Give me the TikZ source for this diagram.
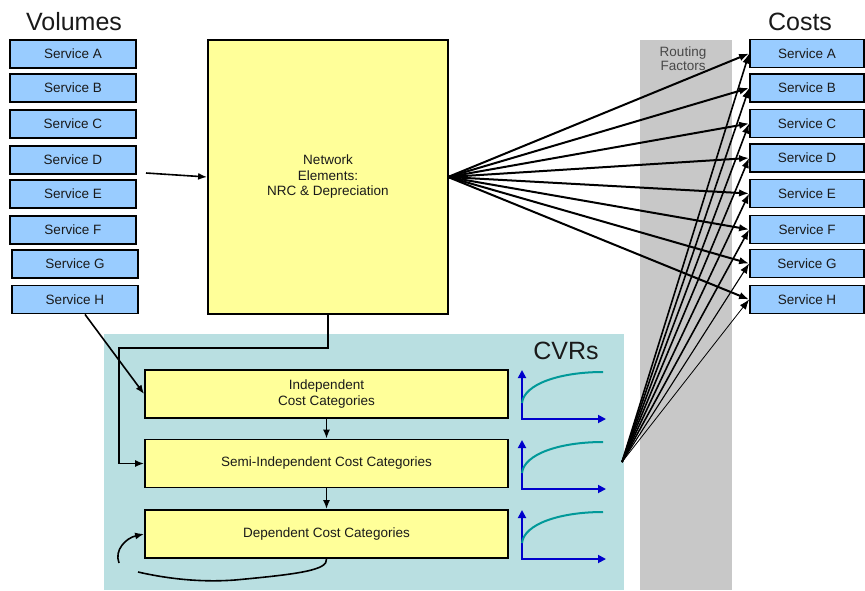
\documentclass[tikz,border=0pt]{standalone}
\usepackage{fontspec}
\setmainfont{Liberation Sans}
\usetikzlibrary{arrows.meta}
\definecolor{svcblue}{HTML}{99CCFF}
\definecolor{boxyellow}{HTML}{FFFF99}
\definecolor{cvrteal}{HTML}{B9DFE1}
\definecolor{routegray}{HTML}{C8C8C8}
\definecolor{axisblue}{HTML}{0000CC}
\definecolor{curveteal}{HTML}{009999}
\definecolor{darktext}{HTML}{1A1A1A}
\begin{document}
\begin{tikzpicture}[x=1pt,y=-1pt,
  svcbox/.style={draw,line width=1.8pt,fill=svcblue,minimum height=28pt,inner sep=0pt,
    font=\fontsize{13.5}{15}\selectfont,text=darktext},
  lsvc/.style={svcbox,minimum width=126pt},
  rsvc/.style={svcbox,minimum width=114pt},
  catbox/.style={draw,line width=1.8pt,fill=boxyellow,minimum width=363pt,minimum height=48pt,
    inner sep=0pt,align=center,font=\fontsize{13.5}{16}\selectfont,text=darktext},
  bigtitle/.style={font=\fontsize{25}{28}\selectfont,text=darktext},
  conn/.style={line width=1.6pt,-{Latex[length=9pt,width=7pt]}},
  fanA/.style={line width=2pt,-{Latex[length=10pt,width=7.5pt]}},
  fanB/.style={line width=1.6pt,-{Latex[length=10pt,width=7.5pt]}},
  axisline/.style={axisblue,line width=1.8pt,{Triangle[length=8pt,width=8pt]}-{Triangle[length=8pt,width=8pt]}},
  cvrcurve/.style={curveteal,line width=2pt}
]
\useasboundingbox (0,0) rectangle (865,590);
% backgrounds
\fill[cvrteal] (104,334) rectangle (624,590);
\fill[routegray] (640,40) rectangle (732,590);
\node[font=\fontsize{13.5}{14}\selectfont,align=center,text=darktext!80] (rf) at (683,59) {Routing\\Factors};

% titles
\node[bigtitle] (vol) at (74,22) {Volumes};
\node[bigtitle] (cost) at (800,22) {Costs};
\node[bigtitle] (cvr) at (566,351) {CVRs};

% left services
\node[lsvc] (lA) at (73,54) {Service A};
\node[lsvc] (lB) at (73,88) {Service B};
\node[lsvc] (lC) at (73,124) {Service C};
\node[lsvc] (lD) at (73,160) {Service D};
\node[lsvc] (lE) at (73,194) {Service E};
\node[lsvc] (lF) at (73,230) {Service F};
\node[lsvc] (lG) at (75,264) {Service G};
\node[lsvc] (lH) at (75,299.5) {Service H};

% right services
\node[rsvc] (rA) at (807,53.5) {Service A};
\node[rsvc] (rB) at (807,88) {Service B};
\node[rsvc] (rC) at (807,123.5) {Service C};
\node[rsvc] (rD) at (807,158) {Service D};
\node[rsvc] (rE) at (807,193.5) {Service E};
\node[rsvc] (rF) at (807,229.5) {Service F};
\node[rsvc] (rG) at (807,263.5) {Service G};
\node[rsvc] (rH) at (807,299.5) {Service H};

% network elements
\node[draw,line width=1.8pt,fill=boxyellow,minimum width=240pt,minimum height=274pt,inner sep=0pt,
  align=center,font=\fontsize{13.5}{15.5}\selectfont,text=darktext] (ne) at (328,177)
  {Network\\Elements:\\NRC \& Depreciation};

% cost categories
\node[catbox] (ind) at (326.5,394) {Independent\\Cost Categories};
\node[catbox] (semi) at (326.5,463.5) {Semi-Independent Cost Categories};
\node[catbox] (dep) at (326.5,534) {Dependent Cost Categories};

% CVR graphs
\foreach \t/\b in {370/419,440/489,510/559}{
  \draw[axisline] (522,\t) -- (522,\b) -- (606,\b);
  \draw[cvrcurve] (522,\b-16) .. controls (524,\t+14) and (560,\t+2) .. (603,\t+2);
}

% connectors
\coordinate (dsrc) at (146,173);
\draw[conn] (dsrc) -- (ne.west);
\draw[conn] ([xshift=10pt]lH.south) -- (ind.west);
\draw[conn] (ne.south) -- (328,348) -- (119,348) |- (semi.west);
\draw[conn] (ind.south) -- (semi.north);
\draw[conn] (semi.south) -- (dep.north);
\draw[line width=1.6pt] (dep.south) .. controls (328,570) and (300,574) .. (235,580)
  .. controls (195,583) and (160,577) .. (138,572);
\coordinate (loopstart) at (119,563);
\draw[conn] (loopstart) .. controls (114,550) and (126,538) .. (dep.west);

% fan from network elements
\coordinate (fanL) at (448,177);
\foreach \s in {A,B,C,D,E,F,G,H}{
  \draw[fanA] (fanL) -- (r\s.west);
}
% fan from CVRs
\coordinate (fanR) at (622,462);
\foreach \s in {A,B,C,D,E,F}{
  \draw[fanB] (fanR) -- (r\s.west);
}
\draw[line width=1.1pt,-{Latex[length=10pt,width=7.5pt]}] (fanR) -- (rG.west);
\draw[line width=0.8pt,-{Latex[length=10pt,width=7.5pt]}] (fanR) -- (rH.west);
\end{tikzpicture}
\end{document}
